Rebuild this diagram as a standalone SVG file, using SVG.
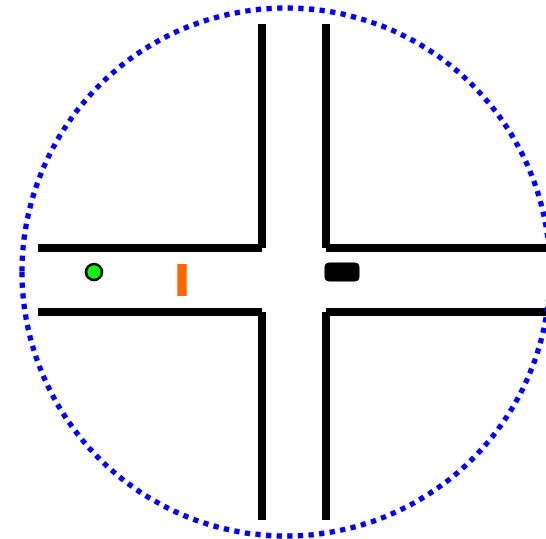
<svg xmlns="http://www.w3.org/2000/svg" width="546" height="539" viewBox="0 0 546 539">
<style>.r{fill:none;stroke:#000;stroke-width:8}</style>
<rect width="546" height="539" fill="#fff"/>
<g id="connectors">
<path class="r" d="M262 24V248M326 24V248M38 248H262M326 248H550M38 312H262M326 312H550M262 312V520M326 312V520"/>
</g>
<g id="boundary"><path d="M22 272A264 264 0 0 0 550 272A264 264 0 0 0 22 272Z" fill="none" stroke="#00f" stroke-width="5.33" stroke-dasharray="5.33 5.33"/></g>
<g id="pedestrian"><circle cx="94" cy="272" r="8" fill="#0f0" stroke="#000" stroke-width="2.67"/></g>
<g id="barrier"><rect x="177.3" y="264" width="9.4" height="32" fill="#f60"/></g>
<g id="vehicle"><rect x="325" y="263" width="34" height="18" rx="4" fill="#000" stroke="#000" stroke-width="1"/></g>
</svg>
